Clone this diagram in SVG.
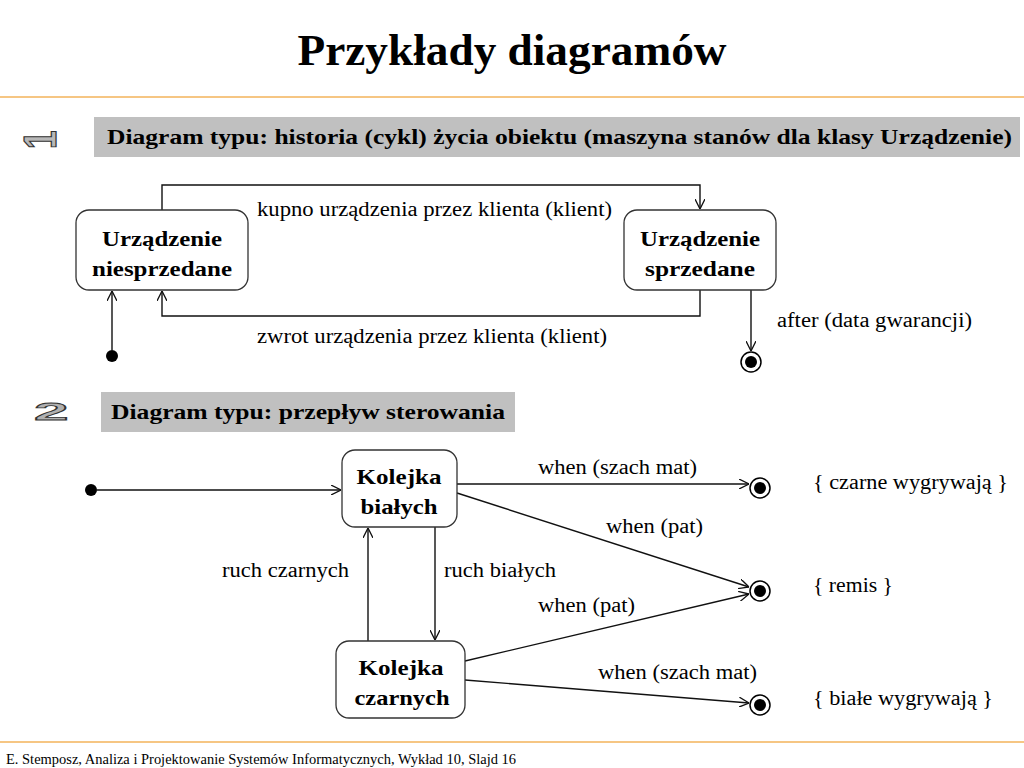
<svg xmlns="http://www.w3.org/2000/svg" width="1024" height="768" viewBox="0 0 1024 768">
<defs>
<style>
.t{font-family:"Liberation Serif","Times New Roman",serif;fill:#000}
.title{font-size:45px;font-weight:bold}
.hdr{font-size:21px;font-weight:bold}
.node{font-size:22px;font-weight:bold}
.lbl{font-size:20px}
.foot{font-size:14px}
.box{fill:#fff;stroke:#333;stroke-width:1.3}
.conn{fill:none;stroke:#111;stroke-width:1.4}
.bar{fill:#c0c0c0}
.rule{stroke:#f3b35a;stroke-width:1.5}
</style>
<marker id="arr" viewBox="0 0 10 10" refX="10" refY="5" markerWidth="10" markerHeight="10" markerUnits="userSpaceOnUse" orient="auto">
<path d="M0,0 L10,5 L0,10" fill="none" stroke="#111" stroke-width="1.3"/>
</marker>
</defs>
<rect width="1024" height="768" fill="#fff"/>
<text class="t title" x="512" y="65" text-anchor="middle" textLength="429" lengthAdjust="spacingAndGlyphs">Przykłady diagramów</text>
<line class="rule" x1="0" y1="97" x2="1024" y2="97"/>
<line class="rule" x1="0" y1="742" x2="1024" y2="742"/>
<text class="t foot" x="6" y="764" textLength="510" lengthAdjust="spacingAndGlyphs">E. Stemposz, Analiza i Projektowanie Systemów Informatycznych, Wykład 10, Slajd 16</text>

<g id="icon1">
<text x="0" y="0" transform="translate(56,149) rotate(-90) scale(1.5,2.1)" font-family="Liberation Sans,sans-serif" font-weight="bold" font-size="22" fill="#b8b8b8" stroke="#333" stroke-width="0.6">1</text>
</g>
<g id="header1">
<rect class="bar" x="94" y="117" width="926" height="40"/>
<text class="t hdr" x="107" y="144" textLength="905" lengthAdjust="spacingAndGlyphs">Diagram typu: historia (cykl) życia obiektu (maszyna stanów dla klasy Urządzenie)</text>
</g>
<g id="icon2">
<text x="0" y="0" transform="translate(34,420) scale(2.7,1)" font-family="Liberation Sans,sans-serif" font-weight="bold" font-size="23" fill="#b0b0b0" stroke="#333" stroke-width="0.8">2</text>
</g>
<g id="header2">
<rect class="bar" x="101" y="392" width="414" height="40"/>
<text class="t hdr" x="111" y="419" textLength="394" lengthAdjust="spacingAndGlyphs">Diagram typu: przepływ sterowania</text>
</g>

<g id="connectors">
<path class="conn" d="M162,210 V185 H700 V209" marker-end="url(#arr)"/>
<path class="conn" d="M700,290 V316 H162 V291" marker-end="url(#arr)"/>
<path class="conn" d="M112,350 V291" marker-end="url(#arr)"/>
<path class="conn" d="M751,290 V351" marker-end="url(#arr)"/>
<path class="conn" d="M97,490 H341" marker-end="url(#arr)"/>
<path class="conn" d="M368,641 V528" marker-end="url(#arr)"/>
<path class="conn" d="M435,527 V640" marker-end="url(#arr)"/>
<path class="conn" d="M457,484 H749" marker-end="url(#arr)"/>
<path class="conn" d="M457,493 L749,587" marker-end="url(#arr)"/>
<path class="conn" d="M465,661 L749,594" marker-end="url(#arr)"/>
<path class="conn" d="M465,680 L749,703" marker-end="url(#arr)"/>
</g>

<g id="labels">
<text class="t lbl" x="257" y="216" textLength="355" lengthAdjust="spacingAndGlyphs">kupno urządzenia przez klienta (klient)</text>
<text class="t lbl" x="257" y="343" textLength="350" lengthAdjust="spacingAndGlyphs">zwrot urządzenia przez klienta (klient)</text>
<text class="t lbl" x="777" y="327" textLength="195" lengthAdjust="spacingAndGlyphs">after (data gwarancji)</text>
<text class="t lbl" x="538" y="474" textLength="159" lengthAdjust="spacingAndGlyphs">when (szach mat)</text>
<text class="t lbl" x="606" y="533" textLength="97" lengthAdjust="spacingAndGlyphs">when (pat)</text>
<text class="t lbl" x="222" y="577" textLength="127" lengthAdjust="spacingAndGlyphs">ruch czarnych</text>
<text class="t lbl" x="444" y="577" textLength="112" lengthAdjust="spacingAndGlyphs">ruch białych</text>
<text class="t lbl" x="538" y="612" textLength="97" lengthAdjust="spacingAndGlyphs">when (pat)</text>
<text class="t lbl" x="598" y="679" textLength="159" lengthAdjust="spacingAndGlyphs">when (szach mat)</text>
<text class="t lbl" x="813" y="489" textLength="195" lengthAdjust="spacingAndGlyphs">{ czarne wygrywają }</text>
<text class="t lbl" x="813" y="592" textLength="80" lengthAdjust="spacingAndGlyphs">{ remis }</text>
<text class="t lbl" x="813" y="705" textLength="180" lengthAdjust="spacingAndGlyphs">{ białe wygrywają }</text>
</g>

<g id="n-niesprzedane">
<rect class="box" x="76" y="210" width="172" height="80" rx="13"/>
<text class="t node" x="162" y="246" text-anchor="middle" textLength="120" lengthAdjust="spacingAndGlyphs">Urządzenie</text>
<text class="t node" x="162" y="276" text-anchor="middle" textLength="140" lengthAdjust="spacingAndGlyphs">niesprzedane</text>
</g>
<g id="n-sprzedane">
<rect class="box" x="624" y="210" width="152" height="80" rx="13"/>
<text class="t node" x="700" y="246" text-anchor="middle" textLength="120" lengthAdjust="spacingAndGlyphs">Urządzenie</text>
<text class="t node" x="700" y="276" text-anchor="middle" textLength="110" lengthAdjust="spacingAndGlyphs">sprzedane</text>
</g>
<g id="start1"><circle cx="112" cy="356" r="6" fill="#000"/></g>
<g id="end1"><circle cx="751" cy="362" r="10" fill="#fff" stroke="#000" stroke-width="1.5"/><circle cx="751" cy="362" r="6" fill="#000"/></g>

<g id="start2"><circle cx="91" cy="490" r="6" fill="#000"/></g>
<g id="n-bialych">
<rect class="box" x="342" y="450" width="115" height="77" rx="13"/>
<text class="t node" x="399" y="484" text-anchor="middle" textLength="85" lengthAdjust="spacingAndGlyphs">Kolejka</text>
<text class="t node" x="399" y="514" text-anchor="middle" textLength="77" lengthAdjust="spacingAndGlyphs">białych</text>
</g>
<g id="n-czarnych">
<rect class="box" x="336" y="641" width="129" height="77" rx="13"/>
<text class="t node" x="401" y="675" text-anchor="middle" textLength="85" lengthAdjust="spacingAndGlyphs">Kolejka</text>
<text class="t node" x="402" y="705" text-anchor="middle" textLength="95" lengthAdjust="spacingAndGlyphs">czarnych</text>
</g>
<g id="end-czarne"><circle cx="760" cy="488" r="10" fill="#fff" stroke="#000" stroke-width="1.5"/><circle cx="760" cy="488" r="6" fill="#000"/></g>
<g id="end-remis"><circle cx="760" cy="591" r="10" fill="#fff" stroke="#000" stroke-width="1.5"/><circle cx="760" cy="591" r="6" fill="#000"/></g>
<g id="end-biale"><circle cx="760" cy="705" r="10" fill="#fff" stroke="#000" stroke-width="1.5"/><circle cx="760" cy="705" r="6" fill="#000"/></g>
</svg>
